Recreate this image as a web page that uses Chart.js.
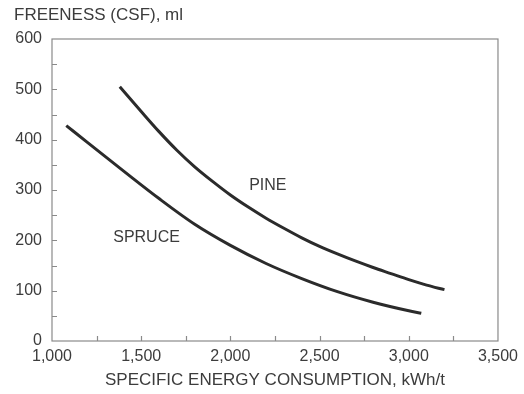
<!DOCTYPE html>
<html>
<head>
<meta charset="utf-8">
<script src="https://cdn.jsdelivr.net/npm/chart.js@4.4.1/dist/chart.umd.min.js"></script>
<style>
  html, body { margin: 0; padding: 0; background: #fff; }
  #wrap { width: 524px; height: 394px; }
</style>
</head>
<body>
<div id="wrap"><canvas id="chart"></canvas></div>
<script>
// specific energy (kWh/t) vs freeness (CSF, ml)
const pineEnergy = [1380, 1500, 1600, 1700, 1800, 1900, 2000, 2100, 2200, 2300, 2400, 2500, 2600, 2700, 2800, 2900, 3000, 3100, 3200];
const pineFreeness = [505, 456, 416, 379, 346, 317, 290, 266, 244, 224, 205, 188, 173, 159, 146, 134, 122, 111, 102];

const spruceEnergy = [1080, 1200, 1400, 1600, 1800, 2000, 2200, 2400, 2600, 2800, 3000, 3070];
const spruceFreeness = [428, 394, 338, 283, 232, 190, 154, 124, 98, 77, 60, 55];

const xTicks = [1000, 1500, 2000, 2500, 3000, 3500];
const yTicks = [0, 100, 200, 300, 400, 500, 600];

const curveLabels = [
  { text: "PINE", x: 2210, y: 308 },
  { text: "SPRUCE", x: 1530, y: 205 },
];

const textColor = "#3c3c3c";
const fontFamily = "'Liberation Sans', Arial, sans-serif";

const toPoints = (xs, ys) => xs.map((x, i) => ({ x: x, y: ys[i] }));

// frame, inward ticks, y title and curve names
const decorations = {
  id: "decorations",
  afterDraw(chart) {
    const ctx = chart.ctx;
    const a = chart.chartArea;
    const xs = chart.scales.x;
    const ys = chart.scales.y;
    ctx.save();
    ctx.strokeStyle = "#8a8a8a";
    ctx.lineWidth = 1.2;
    ctx.strokeRect(a.left, a.top, a.right - a.left, a.bottom - a.top);

    ctx.beginPath();
    for (let v = xTicks[0] + 250; v < xTicks[xTicks.length - 1]; v += 250) {
      const px = Math.round(xs.getPixelForValue(v)) + 0.5;
      ctx.moveTo(px, a.bottom);
      ctx.lineTo(px, a.bottom - 5);
    }
    for (let v = yTicks[0] + 50; v < yTicks[yTicks.length - 1]; v += 50) {
      const py = Math.round(ys.getPixelForValue(v)) + 0.5;
      ctx.moveTo(a.left, py);
      ctx.lineTo(a.left + 5, py);
    }
    ctx.stroke();

    ctx.fillStyle = textColor;
    ctx.font = "17px " + fontFamily;
    ctx.textAlign = "left";
    ctx.textBaseline = "middle";
    ctx.fillText("FREENESS (CSF), ml", 14, 15);

    ctx.font = "16px " + fontFamily;
    ctx.textAlign = "center";
    curveLabels.forEach((l) => {
      ctx.fillText(l.text, xs.getPixelForValue(l.x), ys.getPixelForValue(l.y));
    });
    ctx.restore();
  },
};

const makechart = () => {
  var options = {
    responsive: true,
    maintainAspectRatio: false,
    animation: false,
    layout: { padding: { top: 39, right: 24, left: 0, bottom: 0 } },
    plugins: {
      legend: { display: false },
      tooltip: { enabled: false },
    },
    elements: { point: { radius: 0 } },
    scales: {
      x: {
        type: "linear",
        min: xTicks[0],
        max: xTicks[xTicks.length - 1],
        afterFit: (scale) => { scale.height = 53; },
        afterBuildTicks: (scale) => { scale.ticks = xTicks.map((v) => ({ value: v })); },
        grid: { display: false, drawTicks: false },
        border: { display: false },
        ticks: {
          padding: 6,
          color: textColor,
          font: { size: 16, family: fontFamily },
          maxRotation: 0,
          callback: (v) => v.toLocaleString("en-US"),
        },
        title: {
          display: true,
          text: "SPECIFIC ENERGY CONSUMPTION, kWh/t",
          color: textColor,
          font: { size: 17, family: fontFamily },
          padding: { top: 0, bottom: 3 },
        },
      },
      y: {
        min: yTicks[0],
        max: yTicks[yTicks.length - 1],
        afterFit: (scale) => { scale.width = 52; },
        afterBuildTicks: (scale) => { scale.ticks = yTicks.map((v) => ({ value: v })); },
        grid: { display: false, drawTicks: false },
        border: { display: false },
        ticks: {
          padding: 10,
          color: textColor,
          font: { size: 16, family: fontFamily },
        },
      },
    },
  };

  var data = {
    datasets: [
      {
        label: "PINE",
        data: toPoints(pineEnergy, pineFreeness),
        borderColor: "#2b2b2b",
        borderWidth: 3,
        cubicInterpolationMode: "monotone",
        fill: false,
      },
      {
        label: "SPRUCE",
        data: toPoints(spruceEnergy, spruceFreeness),
        borderColor: "#2b2b2b",
        borderWidth: 3,
        cubicInterpolationMode: "monotone",
        fill: false,
      },
    ],
  };

  return new Chart("chart", {
    type: "line",
    options: options,
    data: data,
    plugins: [decorations],
  });
};

makechart();
</script>
</body>
</html>
